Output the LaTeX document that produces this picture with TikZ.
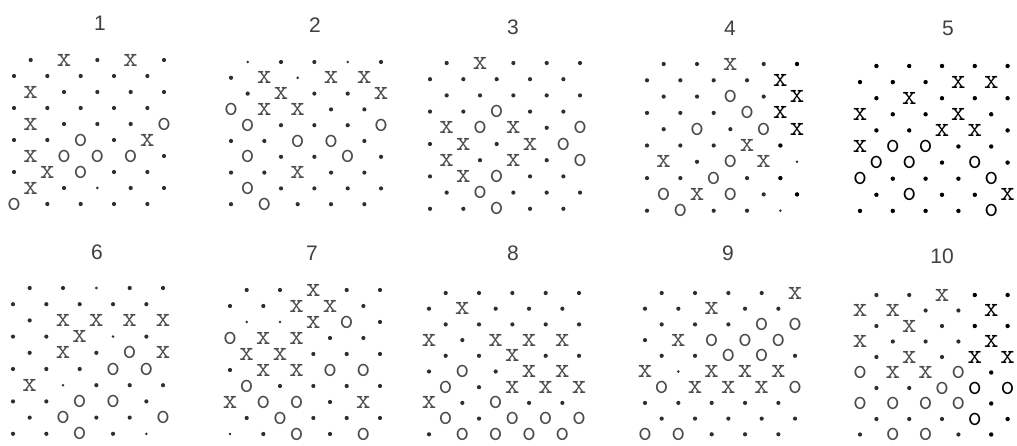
\documentclass[tikz,border=0pt]{standalone}
\usepackage{fontspec}
\newfontfamily\numfont{Liberation Sans}
\colorlet{glyphgray}{black!70}
\colorlet{dotgray}{black!82}
\tikzset{
  glyph/.style={inner sep=0pt, font=\ttfamily\fontsize{28}{28}\selectfont},
  sd/.style={circle, fill=dotgray, inner sep=0pt, minimum size=4.2pt, node contents={}},
  st/.style={circle, fill=dotgray, inner sep=0pt, minimum size=2.8pt, node contents={}},
  sx/.style={glyph, text=glyphgray, node contents={x}},
  so/.style={glyph, text=glyphgray, node contents={o}},
  sD/.style={circle, fill=black, inner sep=0pt, minimum size=4.4pt, node contents={}},
  sX/.style={glyph, text=black, node contents={x}},
  sO/.style={glyph, text=black, node contents={o}},
  num/.style={inner sep=0pt, text=black!75, font=\numfont\fontsize{21}{21}\selectfont},
}
% #1 name, #2 x0, #3 y0, #4 row step, #5 column half-step, #6 rows
\newcommand\latpanel[6]{%
  \foreach \row [count=\j from 0] in {#6} {
    \foreach \s [count=\k from 0] in \row {
      \pgfmathsetmacro\hh{2*\k+1-mod(\j,2)}
      \node (#1-\j-\k) at ({#2+\hh*#5},{#3+\j*#4}) [s\s];
    }
  }%
}
\begin{document}
\begin{tikzpicture}[x=1pt,y=-1pt]
\useasboundingbox (0,0) rectangle (1017,446);
\fill[white] (0,0) rectangle (1017,446);
% numbers
\node[num] (n1) at (100,23) {1};
\node[num] (n2) at (315,25) {2};
\node[num] (n3) at (513,27) {3};
\node[num] (n4) at (730,28) {4};
\node[num] (n5) at (948,28) {5};
\node[num] (n6) at (97,252) {6};
\node[num] (n7) at (312,253) {7};
\node[num] (n8) at (513,253) {8};
\node[num] (n9) at (728,253) {9};
\node[num] (n10) at (942,256) {10};
% panel 1
\latpanel{pa}{14}{60}{16}{16.67}{
 {d,x,d,x,d},{d,d,d,d,d},{x,d,d,d,d},{d,d,d,d,d},{x,d,d,d,o},
 {d,d,o,d,x},{x,o,o,o,d},{d,x,o,d,d},{x,d,t,d,d},{o,d,d,d,d}}
% panel 2
\latpanel{pb}{231}{62}{15.8}{16.67}{
 {t,d,d,t,d},{d,x,t,x,x},{d,x,d,d,x},{o,x,x,d,d},{o,d,d,d,o},
 {d,d,o,o,d},{o,d,d,o,d},{d,d,x,d,d},{o,d,d,d,d},{d,o,d,d,d}}
% panel 3
\latpanel{pc}{430}{63}{16.2}{16.67}{
 {d,x,d,d,d},{d,d,d,d,d},{d,d,d,d,d},{d,d,o,d,d},{x,o,x,d,o},
 {d,x,d,x,o},{x,d,x,d,o},{d,x,o,d,d},{d,o,d,d,d},{d,d,o,d,d}}
% panel 4
\latpanel{pd}{647}{64}{16.3}{16.67}{
 {d,d,x,d,D},{d,d,d,d,X},{d,d,o,d,X},{d,d,d,o,X},{d,o,d,o,X},
 {d,d,d,x,D},{x,d,o,x,t},{d,d,o,d,D},{o,x,o,d,D},{d,o,d,d,t}}
% panel 5
\latpanel{pe}{860}{66}{16.1}{16.4}{
 {D,D,D,D,D},{D,D,D,X,X},{D,X,D,D,D},{X,D,D,X,D},{D,D,X,X,D},
 {X,O,O,D,D},{O,O,D,O,D},{O,D,D,D,O},{D,O,D,D,X},{D,D,D,D,O}}
% panel 6
\latpanel{pf}{13}{288}{16.2}{16.67}{
 {d,d,t,d,d},{d,d,d,d,d},{d,x,x,x,x},{d,d,x,t,d},{d,x,d,o,x},
 {d,d,d,o,o},{x,t,d,d,d},{d,d,o,o,d},{d,o,d,d,o},{d,d,o,d,t}}
% panel 7
\latpanel{pg}{230}{290}{16}{16.67}{
 {d,d,x,d,d},{d,d,x,x,d},{t,t,x,o,d},{o,x,x,d,d},{x,x,d,d,d},
 {d,x,x,o,o},{o,d,d,d,d},{x,o,o,d,x},{d,o,d,d,d},{t,d,o,d,o}}
% panel 8
\latpanel{ph}{429}{293}{15.7}{16.67}{
 {d,d,d,d,d},{d,x,d,d,d},{d,d,d,d,d},{x,d,x,x,x},{d,d,x,d,d},
 {d,o,d,x,x},{o,d,x,x,x},{x,d,o,d,d},{o,d,o,o,o},{d,o,o,o,o}}
% panel 9
\latpanel{pi}{645}{293}{15.7}{16.67}{
 {d,d,d,d,x},{d,d,x,d,d},{d,d,d,o,o},{d,x,o,o,o},{d,d,o,o,d},
 {x,t,x,x,x},{o,x,x,x,o},{d,d,d,d,d},{d,d,d,d,d},{o,o,d,d,d}}
% panel 10
\latpanel{pj}{860}{295}{15.5}{16.4}{
 {d,d,x,D,D},{x,x,d,d,X},{d,x,d,D,D},{x,d,d,d,X},{d,x,d,X,X},
 {o,x,x,o,D},{d,d,o,O,O},{o,o,o,o,D},{d,d,d,O,D},{d,o,o,d,D}}
\end{tikzpicture}
\end{document}
